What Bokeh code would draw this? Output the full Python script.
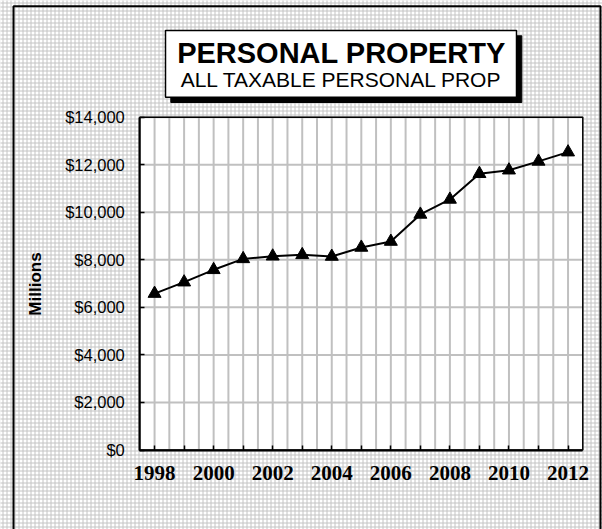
from bokeh.plotting import figure
from bokeh.models import (Range1d, FixedTicker, NumeralTickFormatter, BoxAnnotation, Label)
from bokeh.embed import file_html
from bokeh.resources import INLINE

# ---- data ----
years = [1998, 1999, 2000, 2001, 2002, 2003, 2004, 2005, 2006, 2007, 2008, 2009, 2010, 2011, 2012]
values = [6580, 7060, 7580, 8040, 8150, 8210, 8140, 8520, 8770, 9910, 10540, 11620, 11770, 12140, 12530]
y_ticks = [0, 2000, 4000, 6000, 8000, 10000, 12000, 14000]
title_text = "PERSONAL PROPERTY"
subtitle_text = "ALL TAXABLE PERSONAL PROP"
y_label = "Millions"

# ---- layout (pixels on the 602x529 canvas, top-down) ----
W, H = 602, 529
PL, PR, PT, PB = 139.3, 582.3, 116.7, 449.5   # plot area edges

x0, x1 = years[0] - 0.5, years[-1] + 0.5
y0, y1 = y_ticks[0], y_ticks[-1]
xu = (x1 - x0) / (PR - PL)      # data units per pixel
yu = (y1 - y0) / (PB - PT)

p = figure(width=W, height=H, output_backend="svg", toolbar_location=None,
           x_range=Range1d(x0 - PL * xu, x1 + (W - PR) * xu),
           y_range=Range1d(y0 - (H - PB) * yu, y1 + PT * yu),
           min_border=0, min_border_left=0, min_border_right=0,
           min_border_top=0, min_border_bottom=0)
p.border_fill_color = "#e2e2e2"
p.background_fill_color = "#e2e2e2"
p.outline_line_color = None
p.xgrid.visible = False
p.ygrid.visible = False

def screen_box(left, right, top, bottom, **kw):
    return BoxAnnotation(left=left, right=right, top=H - top, bottom=H - bottom,
                         left_units="screen", right_units="screen",
                         top_units="screen", bottom_units="screen", **kw)

# stippled chart background
p.add_layout(screen_box(-5, W + 5, -5, H + 5, level="image", fill_color="white", fill_alpha=1,
                        line_color=None, hatch_pattern="cross", hatch_color="#c4c4c4",
                        hatch_scale=4, hatch_weight=1, hatch_alpha=1))

# white plot area
p.add_layout(BoxAnnotation(left=x0, right=x1, bottom=y0, top=y1, level="image",
                           fill_color="white", fill_alpha=1, line_color=None))

# grid lines (every half category, every y tick)
gx = [x0 + 0.5 * i for i in range(1, 2 * len(years))]
p.segment(x0=gx, y0=[y0] * len(gx), x1=gx, y1=[y1] * len(gx), line_color="#c0c0c0", line_width=2)
p.segment(x0=[x0] * len(y_ticks), y0=y_ticks, x1=[x1] * len(y_ticks), y1=y_ticks,
          line_color="#c0c0c0", line_width=2)

# plot outline
p.add_layout(BoxAnnotation(left=x0, right=x1, bottom=y0, top=y1,
                           fill_alpha=0, line_color="black", line_width=1.5, line_alpha=1))

# x axis
xa = p.xaxis[0]
xa.fixed_location = y0
xa.bounds = (x0, x1)
xa.ticker = FixedTicker(ticks=years[::2], minor_ticks=years[1::2])
xa.axis_line_color = "black"
xa.axis_line_width = 2
xa.major_tick_in = 5
xa.major_tick_out = 0
xa.minor_tick_in = 5
xa.minor_tick_out = 0
xa.major_tick_line_color = "black"
xa.minor_tick_line_color = "black"
xa.major_tick_line_width = 1.5
xa.minor_tick_line_width = 1.5
xa.major_label_text_font = "Liberation Serif"
xa.major_label_text_font_style = "bold"
xa.major_label_text_font_size = "21px"
xa.major_label_text_color = "black"
xa.major_label_standoff = 16

# y axis
ya = p.yaxis[0]
ya.fixed_location = x0
ya.bounds = (y0, y1)
ya.ticker = FixedTicker(ticks=y_ticks)
ya.formatter = NumeralTickFormatter(format="$0,0")
ya.axis_line_color = "black"
ya.axis_line_width = 2
ya.major_tick_in = 5
ya.major_tick_out = 0
ya.minor_tick_in = 0
ya.minor_tick_out = 0
ya.major_tick_line_color = "black"
ya.major_tick_line_width = 1.5
ya.major_label_text_font = "Liberation Sans"
ya.major_label_text_font_size = "16.5px"
ya.major_label_text_color = "black"
ya.major_label_standoff = 15
ya.axis_label = y_label
ya.axis_label_text_font = "Liberation Sans"
ya.axis_label_text_font_style = "bold"
ya.axis_label_text_font_size = "17px"
ya.axis_label_text_color = "black"
ya.axis_label_standoff = 17

# series
p.line(years, values, line_color="black", line_width=2)
p.scatter(years, values, marker="triangle", size=13, fill_color="black", line_color="black")

# outer chart frame
p.add_layout(screen_box(13, 600, 5.7, H + 10, fill_alpha=0, line_color="black",
                        line_width=2, line_alpha=1))

# title box with shadow
BL, BR, BT, BB, SH = 165, 516, 30, 96.7, 5.3
p.add_layout(screen_box(BL + SH, BR + SH, BT + SH, BB + SH,
                        fill_color="black", fill_alpha=1, line_color="black", line_alpha=1))
p.add_layout(screen_box(BL, BR, BT, BB,
                        fill_color="white", fill_alpha=1, line_color="black", line_width=1.5, line_alpha=1))
p.add_layout(Label(x=341, y=H - 52.7, x_units="screen", y_units="screen", text=title_text,
                   text_align="center", text_baseline="alphabetic",
                   text_font="Liberation Sans", text_font_style="bold",
                   text_font_size="29px", text_color="black"))
p.add_layout(Label(x=341, y=H - 79.0, x_units="screen", y_units="screen", text=subtitle_text,
                   text_align="center", text_baseline="alphabetic",
                   text_font="Liberation Sans", text_font_size="21px", text_color="black"))

open("out.html", "w").write(file_html(p, INLINE))
